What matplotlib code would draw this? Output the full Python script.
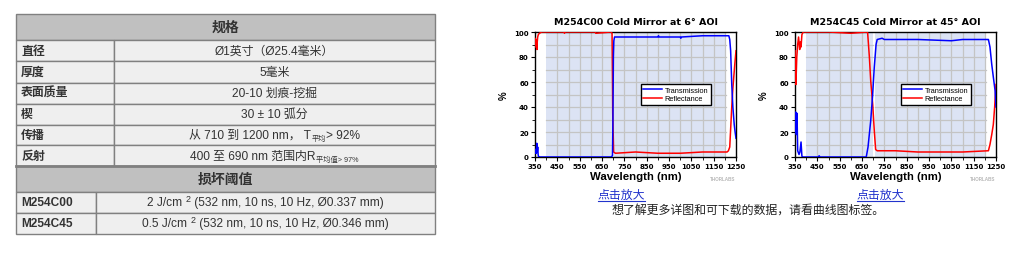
import matplotlib
matplotlib.use('Agg')
import matplotlib.pyplot as plt
from matplotlib.patches import Rectangle
from matplotlib.ticker import MultipleLocator

W, H = 1013, 255
FONT = ['Liberation Sans', 'Noto Sans CJK SC', 'DejaVu Sans']
plt.rcParams['font.family'] = FONT

# ---------------- data ----------------
spec_header = '规格'
spec_labels = ['直径', '厚度', '表面质量', '楔', '传播', '反射']
spec_values = ['Ø1英寸（Ø25.4毫米）', '5毫米', '20-10 划痕-挖掘', '30 ± 10 弧分']
trans_runs = [('从 710 到 1200 nm， T', 'n'), ('平均', 's'), ('> 92%', 'n')]
refl_runs = [('400 至 690 nm 范围内R', 'n'), ('平均值> 97%', 's')]
damage_header = '损坏阈值'
damage_labels = ['M254C00', 'M254C45']
damage_values = [[('2 J/cm ', 'n'), ('2', 'p'), (' (532 nm, 10 ns, 10 Hz, Ø0.337 mm)', 'n')],
                 [('0.5 J/cm ', 'n'), ('2', 'p'), (' (532 nm, 10 ns, 10 Hz, Ø0.346 mm)', 'n')]]

chart_titles = ['M254C00 Cold Mirror at 6° AOI', 'M254C45 Cold Mirror at 45° AOI']
x_ticks = [350, 450, 550, 650, 750, 850, 950, 1050, 1150, 1250]
y_ticks = [0, 20, 40, 60, 80, 100]

c00_T_wl = [350, 352, 354, 356, 358, 360, 362, 364, 366, 370, 500, 600, 690, 697, 699, 701, 703, 706,
            800, 900, 903, 905, 1000, 1003, 1005, 1100, 1200, 1218, 1222, 1226, 1231, 1236, 1242, 1246, 1250]
c00_T = [6, 3, 5, 3, 11, 4, 8, 2, 0, 0, 0, 0, 0, 1, 30, 80, 93, 96,
         96, 96, 97, 96, 96, 95, 96, 97, 97, 97, 94, 85, 58, 40, 26, 20, 15]
c00_R_wl = [350, 351, 353, 355, 357, 359, 360, 362, 365, 370, 380, 480, 482, 484, 600, 620, 622, 690, 695,
            697, 698, 700, 702, 710, 800, 900, 1000, 1100, 1210, 1216, 1222, 1231, 1236, 1240, 1245, 1250]
c00_R = [88, 95, 90, 94, 92, 86, 92, 96, 98, 99, 100, 100, 99, 100, 100, 100, 99, 100, 99,
         60, 35, 20, 4, 3, 4, 3, 3, 4, 4, 5, 8, 40, 55, 64, 75, 85]

c45_T_wl = [350, 353, 356, 359, 362, 368, 372, 377, 381, 387, 455, 458, 462, 500, 600, 669, 677, 689, 697,
            705, 713, 718, 740, 750, 900, 1050, 1100, 1212, 1216, 1223, 1231, 1238, 1246, 1250]
c45_T = [20, 36, 18, 35, 5, 2, 4, 12, 0.5, 0, 0, 1, 0, 0, 0, 0, 8, 29, 48,
         72, 90, 94, 95, 94, 94, 93, 94, 94, 94, 88, 74, 64, 53, 40]
c45_R_wl = [350, 353, 354, 358, 362, 366, 371, 374, 377, 381, 387, 500, 600, 675, 683, 689, 698,
            705, 711, 718, 800, 900, 1000, 1100, 1216, 1223, 1231, 1238, 1244, 1250]
c45_R = [85, 72, 58, 80, 90, 96, 86, 92, 88, 98, 100, 100, 99, 100, 80, 61, 42,
         21, 6, 5, 5, 4, 4, 4, 5, 10, 18, 26, 40, 58]

# ---------------- figure ----------------
fig = plt.figure(figsize=(W / 100, H / 100), dpi=100)
bg = fig.add_axes([0, 0, 1, 1])
bg.set_xlim(0, W)
bg.set_ylim(H, 0)
bg.axis('off')
renderer = fig.canvas.get_renderer()

TXT = '#333333'
HDR = '#c0c0c0'
ROWC = '#efefef'
BORD = '#808080'
NS = 8.6
WIDE = ['DejaVu Sans']


def rect(x0, y0, x1, y1, fc):
    bg.add_patch(Rectangle((x0, y0), x1 - x0, y1 - y0, facecolor=fc, edgecolor=BORD, lw=1.0))


def runs_text(xc, y, runs, weight='normal'):
    objs = []
    for s, kind in runs:
        if kind == 'n':
            t = bg.text(0, y, s, fontsize=NS, color=TXT, va='center', ha='left', weight=weight)
        elif kind == 's':
            t = bg.text(0, y + 3.5, s, fontsize=5.2, color=TXT, va='center', ha='left')
        else:
            t = bg.text(0, y - 4, s, fontsize=6.5, color=TXT, va='center', ha='left')
        objs.append(t)
    widths = [o.get_window_extent(renderer).width for o in objs]
    x = xc - sum(widths) / 2
    for o, w in zip(objs, widths):
        o.set_x(x)
        x += w


# table section 1
TL, TR = 16, 435
rect(TL, 15, TR, 41, HDR)
bg.text((TL + TR) / 2, 28, spec_header, fontsize=10, weight='bold', color=TXT, ha='center', va='center')
rows = [41, 62, 83.5, 104.5, 125.5, 146, 167]
c1 = 114
for i, lab in enumerate(spec_labels):
    y0, y1 = rows[i], rows[i + 1]
    rect(TL, y0, c1, y1, ROWC)
    rect(c1, y0, TR, y1, ROWC)
    yc = (y0 + y1) / 2
    bg.text(21, yc, lab, fontsize=NS, weight='bold', color=TXT, ha='left', va='center')
    xc = (c1 + TR) / 2
    if i < len(spec_values):
        bg.text(xc, yc, spec_values[i], fontsize=NS, color=TXT, ha='center', va='center')
    elif lab == '传播':
        runs_text(xc, yc, trans_runs)
    else:
        runs_text(xc, yc, refl_runs)
bg.plot([TL, TR], [167, 167], color=BORD, lw=2)

# table section 2
rect(TL, 167, TR, 193, HDR)
bg.text((TL + TR) / 2, 180, damage_header, fontsize=10, weight='bold', color=TXT, ha='center', va='center')
rows2 = [193, 214, 235]
c2 = 96
for i, lab in enumerate(damage_labels):
    y0, y1 = rows2[i], rows2[i + 1]
    rect(TL, y0, c2, y1, ROWC)
    rect(c2, y0, TR, y1, ROWC)
    yc = (y0 + y1) / 2
    bg.text(21, yc, lab, fontsize=NS, weight='bold', color=TXT, ha='left', va='center')
    runs_text((c2 + TR) / 2, yc, damage_values[i])

# ---------------- charts ----------------
SHADE = '#dce3f4'
GRID = '#c4c4c4'


def add_chart(x0, x1, title, twl, tv, rwl, rv, gap):
    y0, y1 = 33, 158
    ax = fig.add_axes([x0 / W, 1 - y1 / H, (x1 - x0) / W, (y1 - y0) / H])
    ax.set_xlim(350, 1250)
    ax.set_ylim(0, 100)
    ax.axvspan(400, gap - 3, color=SHADE, lw=0, zorder=0)
    ax.axvspan(gap + 3, 1205, color=SHADE, lw=0, zorder=0)
    for x in range(450, 1201, 50):
        if abs(x - gap) < 10:
            continue
        ax.plot([x, x], [0, 100], color=GRID, lw=0.9, zorder=1)
    for y in range(10, 100, 10):
        ax.plot([400, gap - 3], [y, y], color=GRID, lw=0.9, zorder=1)
        ax.plot([gap + 3, 1205], [y, y], color=GRID, lw=0.9, zorder=1)
    ax.plot(rwl, rv, color='#ff0000', lw=1.1, zorder=3, label='Reflectance')
    ax.plot(twl, tv, color='#0000ff', lw=1.1, zorder=4, label='Transmission')
    ax.set_xticks(x_ticks)
    ax.set_xticklabels([str(v) for v in x_ticks], fontsize=5.0, weight='bold', family=WIDE)
    ax.set_yticks(y_ticks)
    ax.set_yticklabels([str(v) for v in y_ticks], fontsize=5.0, weight='bold', family=WIDE)
    ax.xaxis.set_minor_locator(MultipleLocator(50))
    ax.yaxis.set_minor_locator(MultipleLocator(10))
    ax.tick_params(which='major', direction='out', length=3, width=0.8, pad=1.5)
    ax.tick_params(which='minor', direction='out', length=2, width=0.6)
    for sp in ax.spines.values():
        sp.set_linewidth(1.0)
        sp.set_color('black')
    ax.set_title(title, fontsize=6.8, weight='bold', pad=6, family=WIDE)
    ax.set_xlabel('Wavelength (nm)', fontsize=8.2, weight='bold', labelpad=1)
    ax.set_ylabel('%', fontsize=7, weight='bold', labelpad=4)
    h, l = ax.get_legend_handles_labels()
    leg = ax.legend(h[::-1], l[::-1], loc='center', bbox_to_anchor=(0.70, 0.50), fontsize=5.3,
                    frameon=True, fancybox=False, edgecolor='black', framealpha=1,
                    handlelength=2.6, handletextpad=0.3, labelspacing=0.15, borderpad=0.35)
    leg.get_frame().set_linewidth(1.0)
    leg.set_zorder(10)
    # watermark
    bg.text(x1 - 1, 180, 'THORLABS', fontsize=3.3, color='#b8b8b8', weight='bold', ha='right', va='center')
    # link
    xc = (x0 + x1) / 2 - 14 if x0 < 700 else (x0 + x1) / 2 - 15
    t = bg.text(xc, 196, '点击放大', fontsize=8.6, color='#2233cc', ha='center', va='center')
    w = t.get_window_extent(renderer).width
    bg.plot([xc - w / 2, xc + w / 2], [201.5, 201.5], color='#2233cc', lw=0.8)
    return ax


add_chart(535, 736, chart_titles[0], c00_T_wl, c00_T, c00_R_wl, c00_R, 700)
add_chart(795, 996, chart_titles[1], c45_T_wl, c45_T, c45_R_wl, c45_R, 703)

bg.text(748.5, 212, '想了解更多详图和可下载的数据，请看曲线图标签。', fontsize=8.6, color='#222222',
        ha='center', va='center')

fig.savefig('out.png', dpi=100)
